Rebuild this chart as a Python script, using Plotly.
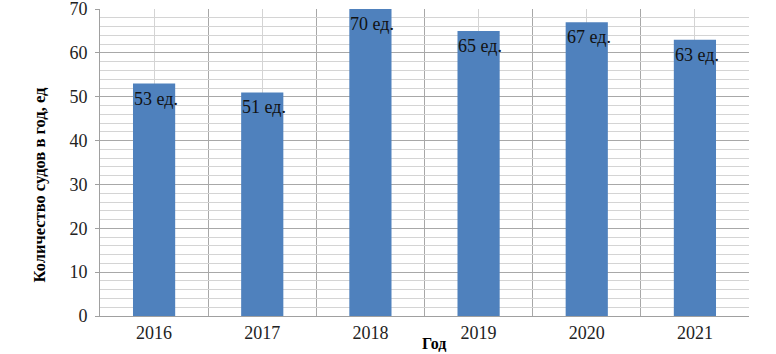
import plotly.graph_objects as go

years = ["2016", "2017", "2018", "2019", "2020", "2021"]
values = [53, 51, 70, 65, 67, 63]
labels = [f"{v} ед." for v in values]
y_ticks = [0, 10, 20, 30, 40, 50, 60, 70]

xpos = list(range(len(years)))
bar_width = 0.39

fig = go.Figure()
fig.add_trace(go.Bar(
    x=xpos, y=values, width=bar_width,
    marker=dict(color="#4F81BD", line=dict(width=0)),
    hoverinfo="skip",
))

for i, (v, t) in enumerate(zip(values, labels)):
    fig.add_annotation(
        x=i - bar_width / 2, y=v, xref="x", yref="y",
        text=t, showarrow=False, xanchor="left", yanchor="top",
        xshift=-1, yshift=-3,
        font=dict(family="Liberation Serif", size=18, color="#111111"),
    )

fig.add_annotation(
    x=0, y=0.5, xref="paper", yref="paper", xshift=-61, yshift=-22,
    text="<b>Количество судов в год, ед</b>", textangle=-90, showarrow=False,
    xanchor="center", yanchor="middle",
    font=dict(family="Liberation Serif", size=16.5, color="#000000"),
)
fig.add_annotation(
    x=0.515, y=0, xref="paper", yref="paper", yshift=-17,
    text="<b>Год</b>", showarrow=False, xanchor="center", yanchor="top",
    font=dict(family="Liberation Serif", size=16, color="#000000"),
)

fig.update_layout(
    width=776, height=354,
    margin=dict(l=100, r=27, t=9, b=38, autoexpand=False),
    paper_bgcolor="white", plot_bgcolor="white",
    showlegend=False,
    font=dict(family="Liberation Serif", size=18, color="#222222"),
    xaxis=dict(
        range=[-0.5, len(years) - 0.5], automargin=False,
        tickmode="array", tickvals=xpos, ticktext=years,
        showgrid=True, gridcolor="#d4d4d4", gridwidth=1,
        ticks="", showline=True, linecolor="#a0a0a0", linewidth=1,
        zeroline=False, mirror=False, ticklabeloverflow="allow",
        minor=dict(tickmode="array", tickvals=[i + 0.5 for i in range(-1, len(years))],
                   showgrid=True, gridcolor="#a8a8a8", gridwidth=1, ticks=""),
        tickfont=dict(family="Liberation Serif", size=18, color="#222222"),
    ),
    yaxis=dict(
        range=[0, 70.02], automargin=False, tickmode="array", tickvals=y_ticks,
        showgrid=True, gridcolor="#a8a8a8", gridwidth=1,
        ticks="outside", ticklen=4, tickcolor="#a0a0a0",
        showline=True, linecolor="#a0a0a0", linewidth=1,
        zeroline=False, ticklabeloverflow="allow", ticklabelstandoff=4,
        minor=dict(dtick=2, tick0=0, showgrid=True, gridcolor="#d4d4d4", gridwidth=1),
        tickfont=dict(family="Liberation Serif", size=18, color="#222222"),
    ),
)

fig.write_html("out.html", config={"displayModeBar": False},
               post_script="document.body.style.margin='0';")
